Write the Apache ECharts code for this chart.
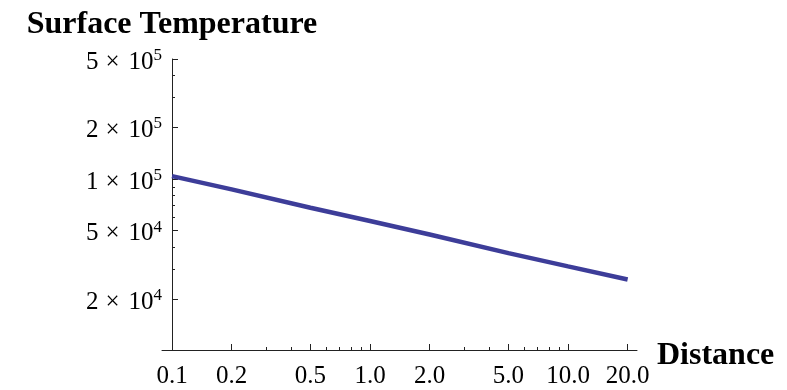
<!DOCTYPE html>
<html>
<head>
<meta charset="utf-8">
<script src="https://cdn.jsdelivr.net/npm/echarts@6/dist/echarts.min.js"></script>
<style>
    html, body {margin: 0; padding: 0; background: #fff;}
    #chart {width: 787px; height: 390px;}
</style>
</head>
<body>
<div id="chart"></div>
<script>
// distance vs surface temperature
var distance = [0.1, 0.2, 0.5, 1, 2, 5, 10, 20];
var temperature = [104000, 87000, 68000, 57000, 47500, 37000, 31000, 26000];

var xMajorTicks = [0.1, 0.2, 0.5, 1, 2, 5, 10, 20];
var xTickLabels = ['0.1', '0.2', '0.5', '1.0', '2.0', '5.0', '10.0', '20.0'];
var xMinorTicks = [0.3, 0.4, 0.6, 0.7, 0.8, 0.9, 3, 4, 6, 7, 8, 9];

var yMajorTicks = [20000, 50000, 100000, 200000, 500000];
var yTickMantissa = ['2', '5', '1', '2', '5'];
var yTickExponent = ['4', '4', '5', '5', '5'];
var yMinorTicks = [30000, 40000, 60000, 70000, 80000, 90000, 300000, 400000];

var xMin = 0.089, xMax = 22.3;
var yMin = 10100, yMax = 500000;

var FONT = 'Liberation Serif';
var AXIS_COLOR = '#222';

var chart = echarts.init(document.getElementById('chart'));

function yLabel(value) {
    var i = yMajorTicks.indexOf(value);
    if (i < 0) return '';
    return '{b|' + yTickMantissa[i] + '}{x|\u00d7}{b|10}{s|' + yTickExponent[i] + '}';
}

function xLabel(value) {
    for (var i = 0; i < xMajorTicks.length; i++) {
        if (Math.abs(xMajorTicks[i] - value) < 1e-9) return xTickLabels[i];
    }
    return '';
}

var option = {
    animation: false,
    grid: {left: 162, right: 150, top: 59, bottom: 40, containLabel: false},
    xAxis: [{
        type: 'log',
        position: 'bottom',
        min: xMin,
        max: xMax,
        name: 'Distance',
        nameLocation: 'end',
        nameGap: 20,
        nameTextStyle: {
            fontFamily: FONT, fontSize: 32, fontWeight: 'bold', color: '#000',
            verticalAlign: 'top', lineHeight: 12
        },
        axisLine: {lineStyle: {color: AXIS_COLOR, width: 1}},
        axisTick: {inside: true, length: 6, lineStyle: {color: AXIS_COLOR}, customValues: xMajorTicks},
        axisLabel: {
            customValues: xMajorTicks,
            formatter: xLabel,
            margin: 14,
            fontFamily: FONT,
            fontSize: 25,
            color: '#000'
        },
        splitLine: {show: false}
    }, {
        type: 'log',
        position: 'bottom',
        min: xMin,
        max: xMax,
        axisLine: {show: false},
        axisTick: {inside: true, length: 3, lineStyle: {color: AXIS_COLOR}, customValues: xMinorTicks},
        axisLabel: {show: false},
        splitLine: {show: false}
    }],
    yAxis: [{
        type: 'log',
        position: 'left',
        min: yMin,
        max: yMax,
        offset: -10,
        name: 'Surface Temperature',
        nameLocation: 'end',
        nameGap: 18,
        nameTextStyle: {fontFamily: FONT, fontSize: 32, fontWeight: 'bold', color: '#000'},
        axisLine: {lineStyle: {color: AXIS_COLOR, width: 1}},
        axisTick: {inside: true, length: 6, lineStyle: {color: AXIS_COLOR}, customValues: yMajorTicks},
        axisLabel: {
            customValues: yMajorTicks,
            formatter: yLabel,
            margin: 10,
            padding: [6, 0, 0, 0],
            rich: {
                b: {fontFamily: FONT, fontSize: 25, color: '#000', lineHeight: 30},
                x: {fontFamily: FONT, fontSize: 25, color: '#000', lineHeight: 30, padding: [0, 9, 0, 7]},
                s: {fontFamily: FONT, fontSize: 17, color: '#000', lineHeight: 18, verticalAlign: 'top'}
            }
        },
        splitLine: {show: false}
    }, {
        type: 'log',
        position: 'left',
        min: yMin,
        max: yMax,
        offset: -10,
        axisLine: {show: false},
        axisTick: {inside: true, length: 3, lineStyle: {color: AXIS_COLOR}, customValues: yMinorTicks},
        axisLabel: {show: false},
        splitLine: {show: false}
    }],
    series: [{
        type: 'line',
        data: distance.map(function (d, i) { return [d, temperature[i]]; }),
        showSymbol: false,
        lineStyle: {color: '#3d3d99', width: 4.5, cap: 'butt'},
        clip: false
    }]
};

chart.setOption(option);
</script>
</body>
</html>
